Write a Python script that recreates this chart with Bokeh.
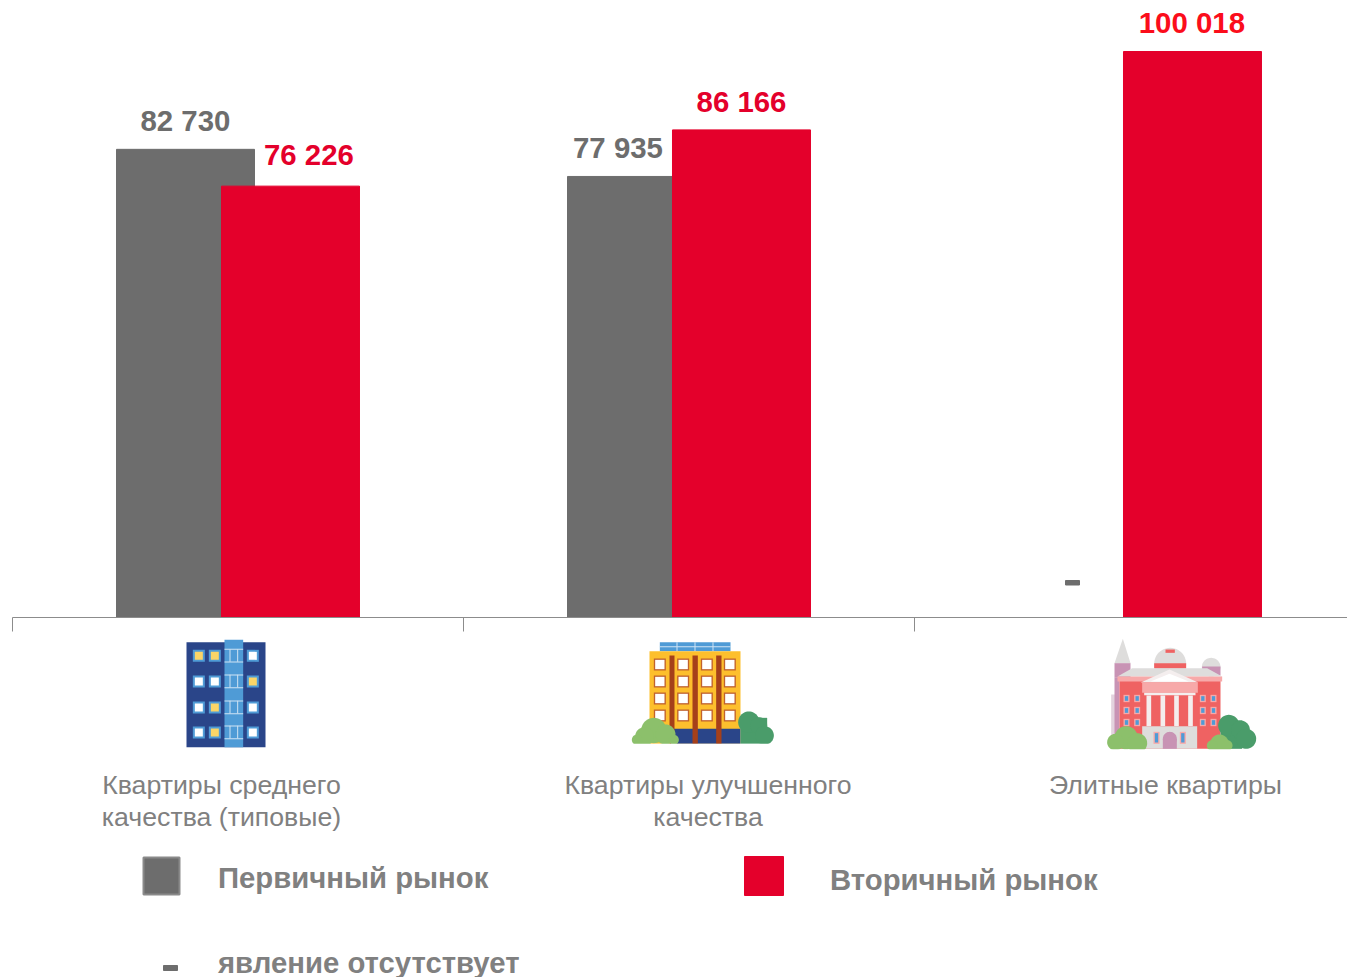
from bokeh.plotting import figure
from bokeh.embed import file_html
from bokeh.resources import INLINE
from bokeh.core.properties import value
from bokeh.models import Range1d, FixedTicker, LinearAxis
import math

# ---------- data ----------
categories = ["Квартиры среднего\nкачества (типовые)", "Квартиры улучшенного\nкачества", "Элитные квартиры"]
primary = [82730, 77935]
primary_pos = [0, 1]
secondary = [76226, 86166, 100018]
secondary_pos = [0, 1, 2]
primary_labels = ["82 730", "77 935"]
secondary_labels = ["76 226", "86 166", "100 018"]
legend_names = ["Первичный рынок", "Вторичный рынок", "явление отсутствует"]

GREY, RED, BRIGHT = "#6d6d6d", "#e4002b", "#fb0d1b"
TXT = "#808080"
FONT = value("Liberation Sans")
W, H = 1347, 977
PX_U = 451.0
SCALE = 566 / 100018

p = figure(width=W, height=H, output_backend="svg", toolbar_location=None,
           x_range=Range1d((0 - 12) / PX_U, (1347 - 12) / PX_U),
           y_range=Range1d(-(977 - 617) / SCALE, 617 / SCALE),
           min_border=0, x_axis_type=None, y_axis_type=None)
p.outline_line_color = None
p.grid.visible = False
p.background_fill_color = "white"
p.extra_x_ranges["px"] = Range1d(0, 1347)
p.extra_y_ranges["px"] = Range1d(977, 0)
PK = dict(x_range_name="px", y_range_name="px")

# ---------- bars ----------
BW = 138 / PX_U
p.vbar(x=[i + 0.5 - 0.1164 for i in primary_pos], top=primary, bottom=0, width=BW, color=GREY)
p.vbar(x=[i + 0.5 + 0.1164 for i in secondary_pos], top=secondary, bottom=0, width=BW, color=RED)

# axis sitting on the zero line
ax = LinearAxis(ticker=FixedTicker(ticks=[0, 1, 2]), fixed_location=0, bounds=(0, 2.96),
                axis_line_color="#8c8c8c", axis_line_width=1,
                major_tick_line_color="#8c8c8c", major_tick_out=14, major_tick_in=0,
                minor_tick_line_color=None,
                major_label_overrides={0: "", 1: "", 2: ""})
p.add_layout(ax, "below")

# value labels
BOLD = dict(text_font=FONT, text_font_style="bold", text_font_size="29.4px",
            text_align="center", text_baseline="alphabetic")
p.text(x=[0.3835, 1.3425], y=primary, text=primary_labels, y_offset=[-29, -29], text_color=GREY, **BOLD)
p.text(x=[0.6573, 1.6164], y=secondary[:2], text=secondary_labels[:2], y_offset=[-32, -28], text_color=RED, **BOLD)
p.text(x=[2.6150], y=secondary[2:], text=secondary_labels[2:], y_offset=[-29], text_color=BRIGHT, **BOLD)

# missing value dash + category labels
p.quad(left=[1065], right=[1079], top=[580], bottom=[584.5], color=GREY, **PK)
cx = [221, 707.5, 1165]
for c, name in zip(cx, categories):
    for j, line in enumerate(name.split("\n")):
        p.text(x=[c], y=[784 + 32 * j], text=[line], text_font=FONT, text_font_size="26.7px",
               text_color=TXT, text_align="center", text_baseline="alphabetic", **PK)

# legend
p.quad(left=[143], right=[179], top=[857], bottom=[894], fill_color=GREY, line_color="#8a8a8a", line_width=2, **PK)
p.quad(left=[744], right=[783], top=[856], bottom=[895], color=RED, **PK)
p.quad(left=[163], right=[177], top=[965], bottom=[970], color=GREY, **PK)
LEG = dict(text_font=FONT, text_font_style="bold", text_font_size="29.3px", text_color=TXT,
           text_align="left", text_baseline="alphabetic")
p.text(x=[217.5], y=[877], text=[legend_names[0]], **LEG, **PK)
p.text(x=[829.5], y=[879], text=[legend_names[1]], **LEG, **PK)
p.text(x=[217.5], y=[961.5], text=[legend_names[2]], **LEG, **PK)

# ---------- icons (decoration, page pixels) ----------
def rects(ox, oy, items, color, **kw):
    l = [ox + a / 3 for a, b, c, d in items]
    r = [ox + c / 3 for a, b, c, d in items]
    t = [oy + b / 3 for a, b, c, d in items]
    b_ = [oy + d / 3 for a, b, c, d in items]
    p.quad(left=l, right=r, top=t, bottom=b_, fill_color=color, line_color=None, **PK, **kw)

def discs(ox, oy, items, color):
    for cxx, cyy, r in items:
        xs = [ox + (cxx + r * math.cos(k * math.pi / 24)) / 3 for k in range(48)]
        ys = [oy + (cyy + r * math.sin(k * math.pi / 24)) / 3 for k in range(48)]
        p.patch(xs, ys, fill_color=color, line_color=None, **PK)

def poly(ox, oy, pts, color):
    p.patch([ox + a / 3 for a, b in pts], [oy + b / 3 for a, b in pts], fill_color=color, line_color=None, **PK)

BLUE, NAVY, LBLUE = "#4f9bd6", "#2a4589", "#8fc1e6"
YEL, WHITE = "#fbd567", "#ffffff"

# icon 1
o = (170, 630)
rects(*o, [(48, 35, 285, 350)], NAVY)
rects(*o, [(162, 28, 218, 350)], BLUE)
wx, wy = [85, 133, 247], [76, 153, 231, 306]
pattern = ["YYW", "WWY", "WYW", "WYW"]
for y, row in zip(wy, pattern):
    for x, c in zip(wx, row):
        rects(*o, [(x - 18, y - 18, x + 18, y + 18)], BLUE)
        rects(*o, [(x - 12, y - 12, x + 12, y + 12)], YEL if c == "Y" else WHITE)
    rects(*o, [(162, y - 21, 218, y - 18), (162, y + 17, 218, y + 20),
               (177, y - 20, 180, y + 18), (200, y - 20, 203, y + 18)], "#cfe3f4")

# icon 2
o = (620, 630)
rects(*o, [(118, 35, 330, 62)], BLUE)
rects(*o, [(118, 47, 330, 50), (168, 35, 171, 62), (222, 35, 225, 62), (276, 35, 279, 62)], "#cfe3f4")
rects(*o, [(87, 62, 360, 340)], "#fdbf2d")
rects(*o, [(160, 295, 360, 340)], NAVY)
for y in [102, 153, 204, 255]:
    for x in [118, 188, 259, 328]:
        rects(*o, [(x - 18, y - 18, x + 18, y + 18)], "#c0622d")
        rects(*o, [(x - 14, y - 14, x + 14, y + 14)], WHITE)
rects(*o, [(147, 75, 162, 340), (216, 75, 232, 340), (287, 75, 303, 340)], "#a5401a")
GR1, GR2 = "#8cc06b", "#4a9c6a"
rects(*o, [(360, 262, 440, 340)], GR2)
discs(*o, [(385, 275, 32), (415, 285, 25), (432, 315, 28)], GR2)
discs(*o, [(100, 300, 38), (72, 318, 28), (135, 312, 30), (50, 328, 16), (160, 328, 15)], GR1)
rects(*o, [(30, 340, 470, 370)], WHITE)

# icon 3
o = (1095, 630)
GY, MV, RD, PK1 = "#dedddc", "#c893b4", "#ef6262", "#f7a9a9"
rects(*o, [(47, 192, 60, 320)], "#e3d3de")
poly(*o, [(57, 98), (82, 25), (105, 98)], GY)
rects(*o, [(57, 98, 105, 140), (57, 140, 72, 325)], MV)
discs(*o, [(347, 110, 28)], GY)
rects(*o, [(320, 108, 375, 135)], MV)
discs(*o, [(224, 100, 48)], GY)
rects(*o, [(176, 98, 272, 114)], RD)
rects(*o, [(210, 57, 238, 67)], RD)
poly(*o, [(66, 138), (110, 113), (335, 113), (380, 138)], GY)
rects(*o, [(72, 150, 375, 355)], RD)
rects(*o, [(66, 138, 380, 153)], PK1)
poly(*o, [(136, 156), (222, 117), (308, 156)], "#f4eeee")
poly(*o, [(165, 153), (222, 130), (280, 153)], WHITE)
rects(*o, [(140, 156, 307, 187)], PK1)
rects(*o, [(146, 187, 300, 194)], "#f4eeee")
rects(*o, [(x - 7, 195, x + 7, 287) for x in [160, 202, 243, 285]], "#f4eeee")
rects(*o, [(140, 287, 305, 355)], GY)
for x in [93, 125, 322, 354]:
    for y in [204, 240, 276]:
        rects(*o, [(x - 9, y - 11, x + 9, y + 11)], PK1)
        rects(*o, [(x - 5, y - 7, x + 5, y + 7)], BLUE)
for x in [183, 262]:
    rects(*o, [(x - 9, 304, x + 9, 340)], PK1)
    rects(*o, [(x - 5, 308, x + 5, 336)], BLUE)
rects(*o, [(202, 325, 244, 355)], MV)
discs(*o, [(223, 325, 21)], MV)
rects(*o, [(375, 270, 440, 355)], GR2)
discs(*o, [(400, 285, 32), (435, 298, 28), (452, 325, 30)], GR2)
discs(*o, [(92, 322, 35), (60, 335, 25), (125, 338, 30), (372, 340, 28), (350, 345, 16), (395, 345, 16)], GR1)
rects(*o, [(25, 356, 490, 372)], WHITE)

open("out.html", "w").write(file_html(p, INLINE))
